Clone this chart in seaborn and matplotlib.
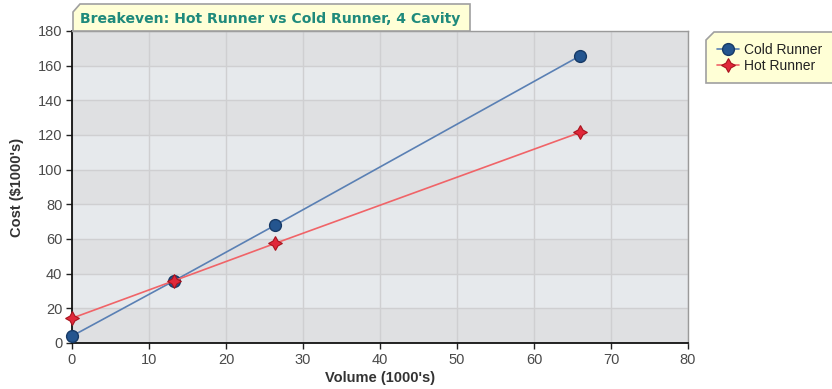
import matplotlib
matplotlib.use("Agg")
import matplotlib.pyplot as plt
from matplotlib.patches import Polygon
import seaborn as sns
import pandas as pd

# Breakeven data (volume in 1000's, cost in $1000's)
volume = [0, 13.3, 26.4, 66]
cold_runner = [4, 36, 68, 165.7]
hot_runner = [14.3, 36, 57.5, 121.5]
series_names = ["Cold Runner", "Hot Runner"]
x_ticks = [0, 10, 20, 30, 40, 50, 60, 70, 80]
y_ticks = [0, 20, 40, 60, 80, 100, 120, 140, 160, 180]

df = pd.DataFrame({
    "Volume": volume * 2,
    "Cost": cold_runner + hot_runner,
    "Series": [series_names[0]] * len(volume) + [series_names[1]] * len(volume),
})

sns.set_theme(style="white")
plt.rcParams["font.family"] = ["Liberation Sans", "DejaVu Sans"]

fig = plt.figure(figsize=(8.32, 3.89), dpi=100)
ax = fig.add_axes([72 / 832, 46 / 389, 616 / 832, 312 / 389])

# alternating horizontal bands
ax.set_facecolor("#e6e9ec")
for i, lo in enumerate(y_ticks[:-1]):
    if i % 2 == 0:
        ax.axhspan(lo, lo + 20, color="#dfe0e2", zorder=0, lw=0)
ax.grid(True, color="#cfcfd1", lw=1, zorder=1)
ax.set_axisbelow(True)

line_colors = {"Cold Runner": "#5a80b4", "Hot Runner": "#f06468"}
sns.lineplot(data=df[df.Series == "Cold Runner"], x="Volume", y="Cost", ax=ax,
             color=line_colors["Cold Runner"], lw=1.2, marker="o", markersize=8.5,
             markerfacecolor="#24558f", markeredgecolor="#173a66", markeredgewidth=1.0,
             label="Cold Runner", zorder=3, clip_on=False)
sns.lineplot(data=df[df.Series == "Hot Runner"], x="Volume", y="Cost", ax=ax,
             color=line_colors["Hot Runner"], lw=1.2, marker=(4, 1, 0), markersize=10,
             markerfacecolor="#e0283a", markeredgecolor="#a8141e", markeredgewidth=0.8,
             label="Hot Runner", zorder=4, clip_on=False)

ax.set_xlim(0, 80)
ax.set_ylim(0, 180)
ax.set_xticks(x_ticks)
ax.set_yticks(y_ticks)
ax.tick_params(axis="both", which="both", direction="out", length=4, width=1,
               color="#222222", labelsize=10.5, labelcolor="#4a4a4a", pad=3,
               bottom=True, left=True)

for side in ["top", "right"]:
    ax.spines[side].set_color("#9a9a9a")
    ax.spines[side].set_linewidth(1)
for side in ["left", "bottom"]:
    ax.spines[side].set_color("#111111")
    ax.spines[side].set_linewidth(1.3)

ax.set_xlabel("Volume (1000's)", fontsize=10.5, fontweight="bold", color="#333333", labelpad=3)
ax.set_ylabel("Cost (\\$1000's)", fontsize=10.5, fontweight="bold", color="#333333", labelpad=10)

# title box with clipped corner
W, H = 832.0, 389.0
def fig_poly(pts, **kw):
    p = Polygon([(x / W, 1 - y / H) for x, y in pts], closed=True,
                transform=fig.transFigure, **kw)
    fig.patches.append(p)

fig_poly([(73, 12), (80, 4), (470, 4), (470, 31), (73, 31)],
         facecolor="#ffffd6", edgecolor="#a0a0a0", lw=1.2, zorder=5)
fig.text(80 / W, 1 - 18.5 / H, "Breakeven: Hot Runner vs Cold Runner, 4 Cavity",
         fontsize=10.1, fontweight="bold", color="#1f8a7c", va="center", ha="left",
         family=["DejaVu Sans"], zorder=6)

# legend box with clipped corner
fig_poly([(706, 40), (714, 32), (836, 32), (836, 83), (706, 83)],
         facecolor="#ffffd6", edgecolor="#a0a0a0", lw=1.2, zorder=5)
if ax.get_legend():
    ax.get_legend().remove()
handles, labels = ax.get_legend_handles_labels()
leg = fig.legend(handles, labels, loc="upper left", bbox_to_anchor=(706 / W, 1 - 32 / H),
                 frameon=False, fontsize=10, handlelength=1.6, handletextpad=0.3,
                 labelspacing=0.15, borderpad=0.3, labelcolor="#222222")
leg.set_zorder(7)

fig.savefig("out.png", dpi=100)
